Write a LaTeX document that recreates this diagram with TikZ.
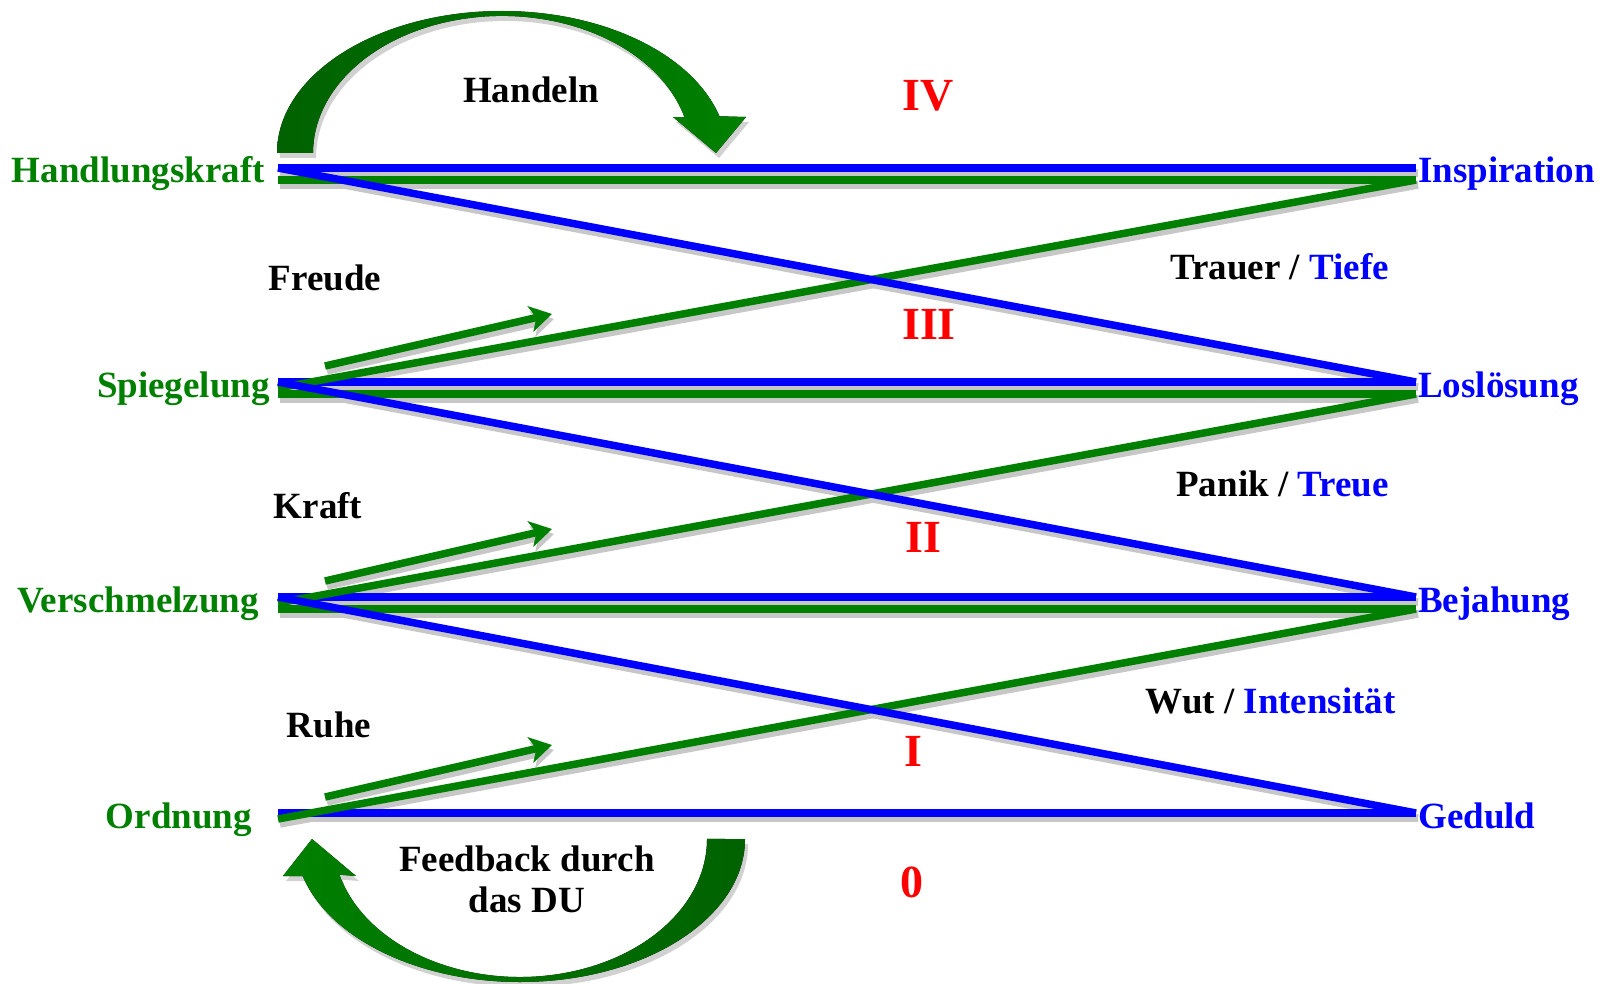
\documentclass[tikz,border=0pt]{standalone}
\usepackage{fontspec}
\setmainfont{Liberation Serif}
\usetikzlibrary{positioning}
\usetikzlibrary{arrows.meta}
\definecolor{linegreen}{RGB}{0,128,0}
\definecolor{darkgreen}{RGB}{0,98,0}
\definecolor{lineblue}{RGB}{0,0,255}
\definecolor{numred}{RGB}{255,0,0}
\tikzset{
	txt/.style={
		font=\bfseries\fontsize{37}{41}\selectfont,
		inner sep=0pt
	},
	rowtext/.style={txt, text height=26pt, text depth=8pt},
	numeral/.style={
		font=\bfseries\fontsize{46}{50}\selectfont,
		inner sep=0pt,
		text=numred
	},
	band/.style={line width=7.5pt},
	bandshadow/.style={band, draw=black!22, transform canvas={shift={(2,5)}}},
	bigarrow/.style={preaction={fill=black!18, transform canvas={shift={(3,5)}}}}
}
\begin{document}
\begin{tikzpicture}[x=1pt, y=-1pt]
		\useasboundingbox (0,0) rectangle (1613,984);

		% row ends: blue line, green line, middle, small arrows
		\foreach \r/\y in {1/168, 2/382, 3/597, 4/813} {
			\coordinate (lB\r) at (278,\y);
			\coordinate (rB\r) at (1416,\y);
			\coordinate (lG\r) at (278,\y+12);
			\coordinate (rG\r) at (1416,\y+12);
			\coordinate (lM\r) at (278,\y+6);
			\coordinate (rM\r) at (1416,\y+6);
			\coordinate (aS\r) at (325,\y-16);
			\coordinate (aT\r) at (552,\y-68);
		}

		\draw node[rowtext, text=linegreen, left=13pt of lM1](Handlungskraft){Handlungskraft};
		\draw node[rowtext, text=linegreen, left=8pt of lM2](Spiegelung){Spiegelung};
		\draw node[rowtext, text=linegreen, left=19pt of lM3](Verschmelzung){Verschmelzung};
		\draw node[rowtext, text=linegreen, left=26pt of lM4](Ordnung){Ordnung};
		\draw node[rowtext, text=lineblue, right=2pt of rM1](Inspiration){Inspiration};
		\draw node[rowtext, text=lineblue, right=2pt of rM2](Losloesung){Loslösung};
		\draw node[rowtext, text=lineblue, right=2pt of rM3](Bejahung){Bejahung};
		\draw node[rowtext, text=lineblue, right=2pt of rM4](Geduld){Geduld};

		% shadows first
		\foreach \a/\b in {lG1/rG1, lG2/rG2, lG3/rG3, lB1/rB1, lB2/rB2, lB3/rB3, lB4/rB4,
				lM2/rG1, lM3/rG2, lM4/rG3, lB1/rB2, lB2/rB3, lB3/rB4}
			\draw[bandshadow] (\a) -- (\b);
		\foreach \r in {2,3,4}
			\draw[bandshadow, -{Stealth[length=22pt, width=26pt, inset=6pt]}] (aS\r) -- (aT\r);

		% horizontal bands
		\foreach \r in {1,2,3}
			\draw[band, linegreen] (lG\r) -- (rG\r);
		\foreach \r in {1,2,3,4}
			\draw[band, lineblue] (lB\r) -- (rB\r);

		% crossing bands
		\draw[band, linegreen] (lM2) -- (rG1);
		\draw[band, linegreen] (lM3) -- (rG2);
		\draw[band, linegreen] (lM4) -- (rG3);
		\draw[band, lineblue] (lB1) -- (rB2);
		\draw[band, lineblue] (lB2) -- (rB3);
		\draw[band, lineblue] (lB3) -- (rB4);

		\foreach \r in {2,3,4}
			\draw[band, linegreen, -{Stealth[length=22pt, width=26pt, inset=6pt]}] (aS\r) -- (aT\r);

		% curved arrows
		\fill[bigarrow, left color=darkgreen, right color=linegreen]
			(277,153) arc[start angle=180, end angle=345, x radius=225, y radius=142]
			-- (746,117) -- (716,153) -- (673,117) -- (684.6,117.5)
			arc[start angle=345, end angle=180, x radius=189, y radius=137] -- cycle;
		\fill[bigarrow, left color=linegreen, right color=darkgreen]
			(745,839) arc[start angle=0, end angle=165, x radius=225, y radius=143]
			-- (283,876) -- (312,839) -- (356,876) -- (339.4,874.7)
			arc[start angle=165, end angle=0, x radius=187, y radius=138] -- cycle;

		% words
		\draw node[txt, anchor=base] at (531,103) (Handeln){Handeln};
		\draw node[txt, anchor=base] at (325,290) (Freude){Freude};
		\draw node[txt, anchor=base] at (318,518) (Kraft){Kraft};
		\draw node[txt, anchor=base] at (329,737) (Ruhe){Ruhe};
		\draw node[txt, anchor=base east] at (1389,279) (Trauer){Trauer / \textcolor{lineblue}{Tiefe}};
		\draw node[txt, anchor=base east] at (1389,496) (Panik){Panik / \textcolor{lineblue}{Treue}};
		\draw node[txt, anchor=base east] at (1396,713) (Wut){Wut / \textcolor{lineblue}{Intensität}};
		\draw node[txt, align=center] at (527,879) (Feedback){Feedback durch\\ das DU};

		% levels
		\draw node[numeral, anchor=base] at (928,111) (IV){IV};
		\draw node[numeral, anchor=base] at (929,339) (III){III};
		\draw node[numeral, anchor=base] at (923,552) (II){II};
		\draw node[numeral, anchor=base] at (913,766) (I){I};
		\draw node[numeral, anchor=base] at (912,897) (Zero){0};
	\end{tikzpicture}
\end{document}
